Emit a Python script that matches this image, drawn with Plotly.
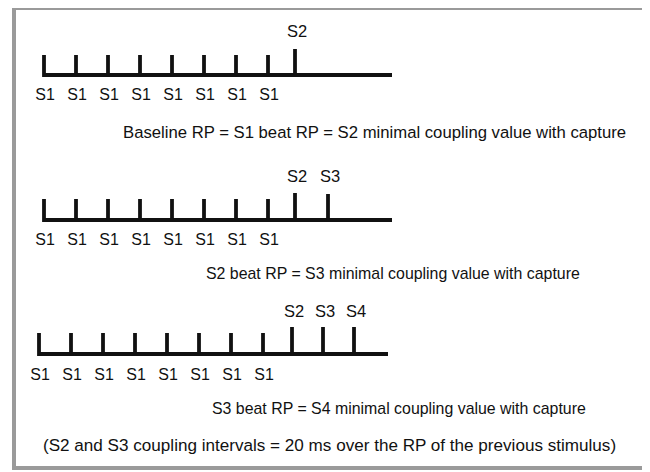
import plotly.graph_objects as go

# ---- data (x / y in picture pixel units) ----
panel_names = ["baseline", "S2 test", "S3 test"]
baseline_y = [75, 220, 354]
baseline_start = [43, 43, 38]
baseline_end = [392, 392, 388]
s1_ticks = [
    [44, 76, 108, 140, 172, 204, 236, 268],
    [44, 76, 108, 140, 172, 204, 236, 268],
    [39, 71, 103, 135, 167, 199, 231, 263],
]
s1_tick_top = [55, 199, 333]
extra_labels = [["S2"], ["S2", "S3"], ["S2", "S3", "S4"]]
extra_ticks = [[295], [295, 328], [292, 323, 354]]
extra_tick_top = [[49], [193, 194], [327, 327, 327]]
s1_label_y = [96, 241, 376]
extra_label_y = [33, 178, 313]
captions = [
    "Baseline RP = S1 beat RP = S2 minimal coupling value with capture",
    "S2 beat RP = S3 minimal coupling value with capture",
    "S3 beat RP = S4 minimal coupling value with capture",
    "(S2 and S3 coupling intervals = 20 ms over the RP of the previous stimulus)",
]
caption_x = [121, 204, 210, 41]
caption_y = [132, 273, 408, 445]
caption_size = [16.7, 15.9, 15.9, 17.1]

FONT = "Liberation Sans, Arial, sans-serif"
# the page body adds an 8 px offset; the axis ranges compensate for it
PAGE_OFFSET = 8

fig = go.Figure()

for p in range(3):
    b = baseline_y[p]
    xs = [s1_ticks[p][0], s1_ticks[p][0], baseline_end[p]]
    ys = [s1_tick_top[p], b, b]
    for t in s1_ticks[p][1:]:
        xs += [None, t, t]
        ys += [None, b, s1_tick_top[p]]
    for t, top in zip(extra_ticks[p], extra_tick_top[p]):
        xs += [None, t, t]
        ys += [None, b, top]
    fig.add_trace(go.Scatter(x=xs, y=ys, mode="lines",
                             line=dict(color="#111111", width=3.8),
                             hoverinfo="skip", showlegend=False))
    fig.add_trace(go.Scatter(x=[t + 1 for t in s1_ticks[p]],
                             y=[s1_label_y[p]] * len(s1_ticks[p]),
                             mode="text", text=["S1"] * len(s1_ticks[p]),
                             textfont=dict(family=FONT, size=16, color="#111111"),
                             hoverinfo="skip", showlegend=False))
    fig.add_trace(go.Scatter(x=[t + 2 for t in extra_ticks[p]],
                             y=[extra_label_y[p]] * len(extra_ticks[p]),
                             mode="text", text=extra_labels[p],
                             textfont=dict(family=FONT, size=16.5, color="#111111"),
                             hoverinfo="skip", showlegend=False))

annotations = []
for txt, cx, cy, cs in zip(captions, caption_x, caption_y, caption_size):
    annotations.append(dict(x=cx, y=cy, xref="x", yref="y", text=txt,
                            showarrow=False, xanchor="left", yanchor="middle",
                            font=dict(family=FONT, size=cs, color="#111111")))

shapes = [
    dict(type="rect", xref="x", yref="y", x0=646, x1=660, y0=16, y1=490,
         fillcolor="#d4d4d4", line=dict(width=0), layer="below"),
    dict(type="rect", xref="x", yref="y", x0=14, x1=644, y0=8, y1=468,
         line=dict(color="#9a9a9a", width=4), fillcolor="rgba(0,0,0,0)"),
]

fig.update_layout(
    width=650, height=472,
    margin=dict(l=0, r=0, t=0, b=0),
    paper_bgcolor="white", plot_bgcolor="white",
    xaxis=dict(range=[PAGE_OFFSET, 650 + PAGE_OFFSET], visible=False, fixedrange=True),
    yaxis=dict(range=[472 + PAGE_OFFSET, PAGE_OFFSET], visible=False, fixedrange=True),
    annotations=annotations, shapes=shapes,
    showlegend=False,
)

fig.write_html("out.html")
